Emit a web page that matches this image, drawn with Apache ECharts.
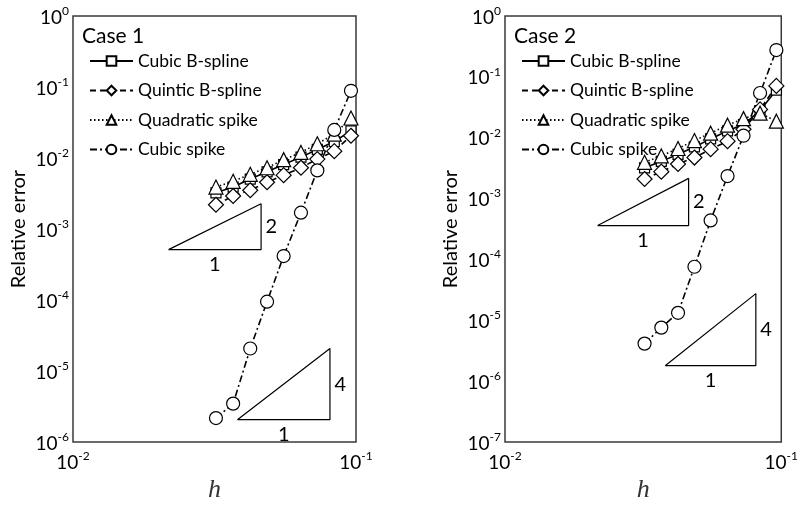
<!DOCTYPE html>
<html><head><meta charset="utf-8">
<script src="https://cdn.jsdelivr.net/npm/echarts@6/dist/echarts.min.js"></script>
<style>html,body{margin:0;padding:0;background:#fff}#c{width:801px;height:508px}</style>
</head><body><div id="c"></div>
<script>
// ---- data ----
const h = [0.032, 0.0368, 0.0423, 0.0485, 0.0555, 0.0639, 0.073, 0.0838, 0.096];
const seriesNames = ['Cubic B-spline', 'Quintic B-spline', 'Quadratic spike', 'Cubic spike'];
// Case 1
const case1CubicB   = [3.24e-3, 3.9e-3, 5.06e-3, 6.4e-3, 8.1e-3, 1.03e-2, 1.32e-2, 1.71e-2, 2.41e-2];
const case1QuinticB = [2.2e-3, 2.92e-3, 3.52e-3, 4.56e-3, 5.74e-3, 7.3e-3, 9.66e-3, 1.25e-2, 2.06e-2];
const case1QuadSp   = [3.9e-3, 4.7e-3, 5.9e-3, 7.3e-3, 9.5e-3, 1.2e-2, 1.59e-2, 2.17e-2, 3.66e-2];
const case1CubicSp  = [2.18e-6, 3.48e-6, 2.08e-5, 9.5e-5, 4.17e-4, 1.7e-3, 6.7e-3, 2.49e-2, 8.85e-2];
// Case 2
const case2CubicB   = [3.21e-3, 4.09e-3, 5.35e-3, 7.06e-3, 9.57e-3, 1.3e-2, 1.65e-2, 2.79e-2, 6.06e-2];
const case2QuinticB = [2.1e-3, 2.77e-3, 3.71e-3, 4.73e-3, 6.49e-3, 8.79e-3, 1.38e-2, 2.92e-2, 7.1e-2];
const case2QuadSp   = [3.95e-3, 5.03e-3, 6.66e-3, 9.0e-3, 1.19e-2, 1.61e-2, 2.06e-2, 2.53e-2, 1.87e-2];
const case2CubicSp  = [4.15e-6, 7.6e-6, 1.33e-5, 7.6e-5, 4.38e-4, 2.35e-3, 1.08e-2, 5.43e-2, 0.276];
// slope triangles: [x1, x2, y1, y2, label run, label rise]
const case1Slope2 = [0.02176, 0.0462, 5.13e-4, 2.27e-3, '1', '2'];
const case1Slope4 = [0.0381, 0.0809, 2.07e-6, 2.08e-5, '1', '4'];
const case2Slope2 = [0.02164, 0.0462, 3.61e-4, 2.15e-3, '1', '2'];
const case2Slope4 = [0.0380, 0.0809, 1.80e-6, 2.75e-5, '1', '4'];
const panelTitles = ['Case 1', 'Case 2'];
const xMin = 0.01, xMax = 0.1;
const yMins = [1e-6, 1e-7], yMax = 1;

// ---- styles ----
const FONT = 'Lato';
const INK = '#000';
const styles = [
  {symbol: 'rect', symbolSize: 10, type: 'solid'},
  {symbol: 'diamond', symbolSize: 15, type: [6, 4]},
  {symbol: 'triangle', symbolSize: 14, type: [1.5, 2.5]},
  {symbol: 'circle', symbolSize: 13, type: [7, 3, 2, 3]}
];
const grids = [
  {left: 73, top: 16, width: 283, height: 442, show: true, borderColor: '#3a3a3a', borderWidth: 1.5},
  {left: 505, top: 16, width: 283, height: 442, show: true, borderColor: '#3a3a3a', borderWidth: 1.5}
];
const expLabel = v => '{b|10}{s|' + Math.round(Math.log10(v)) + '}';
const richTick = {
  b: {fontSize: 19, fontFamily: FONT, color: INK, verticalAlign: 'bottom', lineHeight: 22},
  s: {fontSize: 12, fontFamily: FONT, color: INK, verticalAlign: 'top', lineHeight: 12}
};
const xAxes = [0, 1].map(i => ({
  type: 'log', logBase: 10, gridIndex: i, min: xMin, max: xMax,
  axisLine: {show: false}, axisTick: {show: false}, splitLine: {show: false}, minorTick: {show: false},
  axisLabel: {formatter: expLabel, rich: richTick, margin: 8, showMinLabel: true, showMaxLabel: true},
  name: 'h', nameLocation: 'middle', nameGap: 30,
  nameTextStyle: {fontFamily: 'Liberation Serif', fontStyle: 'italic', fontSize: 26, color: '#333'}
}));
const yAxes = [0, 1].map(i => ({
  type: 'log', logBase: 10, gridIndex: i, min: yMins[i], max: yMax,
  axisLine: {show: false}, axisTick: {show: false}, splitLine: {show: false},
  axisLabel: {formatter: expLabel, rich: richTick, margin: 4, showMinLabel: true, showMaxLabel: true},
  name: 'Relative error', nameLocation: 'middle', nameGap: 44, nameRotate: 90,
  nameTextStyle: {fontFamily: FONT, fontSize: 20, color: INK}
}));

const seriesData = [
  [case1CubicB, case1QuinticB, case1QuadSp, case1CubicSp],
  [case2CubicB, case2QuinticB, case2QuadSp, case2CubicSp]
];
const slopes = [[case1Slope2, case1Slope4], [case2Slope2, case2Slope4]];
const slopeLabel = pos => ({show: true, position: pos, distance: 4, formatter: d => d.name,
  fontFamily: FONT, fontSize: 20, color: INK, opacity: 1, textBorderWidth: 0});
const series = [];
[0, 1].forEach(p => {
  slopes[p].forEach(t => {
    const [x1, x2, y1, y2, run, rise] = t;
    series.push({
      type: 'line', xAxisIndex: p, yAxisIndex: p, silent: true, symbol: 'none',
      lineStyle: {color: INK, width: 1.2}, z: 1,
      data: [[x1, y1], [x2, y1], [x2, y2], [x1, y1]]
    });
    series.push({
      type: 'scatter', xAxisIndex: p, yAxisIndex: p, silent: true, symbolSize: 1, z: 1,
      itemStyle: {color: 'rgba(0,0,0,0)'},
      data: [
        {name: run, value: [Math.sqrt(x1 * x2), y1], label: slopeLabel('bottom')},
        {name: rise, value: [x2, Math.sqrt(y1 * y2)], label: slopeLabel('right')}
      ]
    });
  });
  seriesData[p].forEach((vals, k) => {
    series.push({
      name: seriesNames[k], type: 'line', xAxisIndex: p, yAxisIndex: p,
      symbol: styles[k].symbol, symbolSize: styles[k].symbolSize, showAllSymbol: true,
      lineStyle: {color: INK, width: 1.6, type: styles[k].type},
      itemStyle: {color: '#fff', borderColor: INK, borderWidth: 1.2},
      z: 2,
      data: h.map((x, j) => [x, vals[j]])
    });
  });
});

const legends = [0, 1].map(p => ({
  orient: 'vertical', left: grids[p].left + 11, top: 47, z: 10,
  itemWidth: 43, itemHeight: 12, itemGap: 11.5,
  data: seriesNames,
  textStyle: {fontFamily: FONT, fontSize: 17.5, color: INK},
  selectedMode: false
}));
const titles = [0, 1].map(p => ({
  text: panelTitles[p], left: grids[p].left + 9, top: 26, padding: 0, z: 10,
  textStyle: {fontFamily: FONT, fontSize: 21, fontWeight: 'normal', color: INK}
}));

const chart = echarts.init(document.getElementById('c'), null, {renderer: 'canvas'});
chart.setOption({
  animation: false,
  backgroundColor: '#fff',
  title: titles,
  legend: legends,
  grid: grids,
  xAxis: xAxes,
  yAxis: yAxes,
  series: series
});
</script></body></html>
